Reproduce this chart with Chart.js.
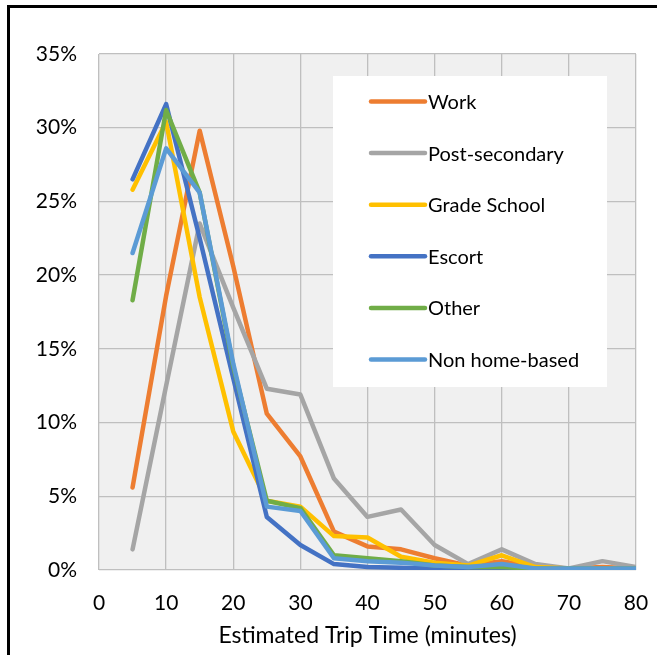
<!DOCTYPE html>
<html>
<head>
<meta charset="utf-8">
<script src="https://cdn.jsdelivr.net/npm/chart.js@4"></script>
<style>
  html, body { margin: 0; padding: 0; background: #ffffff; overflow: hidden; }
  #wrap { position: absolute; left: 0; top: 0; width: 657px; height: 655px; }
  #frame { position: absolute; left: 7px; top: 5px; width: 700px; height: 700px;
           border: 3px solid #000; pointer-events: none; }
</style>
</head>
<body>
<div id="wrap"><canvas id="c" width="657" height="655"></canvas></div>
<div id="frame"></div>
<script>
// ---- data ----
const minutes = [5, 10, 15, 20, 25, 30, 35, 40, 45, 50, 55, 60, 65, 70, 75, 80];
const seriesNames = ["Work", "Post-secondary", "Grade School", "Escort", "Other", "Non home-based"];
const work          = [5.6, 18.6, 29.8, 20.6, 10.6, 7.7, 2.6, 1.6, 1.4, 0.8, 0.3, 0.6, 0.2, 0.1, 0.2, 0.1];
const postSecondary = [1.4, 12.5, 23.5, 17.8, 12.3, 11.9, 6.2, 3.6, 4.1, 1.7, 0.4, 1.4, 0.4, 0.1, 0.6, 0.2];
const gradeSchool   = [25.8, 30.4, 18.5, 9.4, 4.7, 4.3, 2.3, 2.2, 0.9, 0.5, 0.3, 1.0, 0.2, 0.1, 0.1, 0.1];
const escort        = [26.5, 31.6, 22.5, 13.0, 3.6, 1.7, 0.4, 0.2, 0.15, 0.1, 0.05, 0.1, 0.05, 0.0, 0.0, 0.0];
const other         = [18.3, 31.2, 25.6, 13.8, 4.7, 4.2, 1.0, 0.8, 0.6, 0.3, 0.2, 0.2, 0.1, 0.1, 0.1, 0.1];
const nonHomeBased  = [21.5, 28.6, 25.6, 14.0, 4.3, 4.0, 0.8, 0.6, 0.5, 0.3, 0.2, 0.4, 0.1, 0.1, 0.1, 0.1];
const xTicks = [0, 10, 20, 30, 40, 50, 60, 70, 80];
const yTicks = [0, 5, 10, 15, 20, 25, 30, 35];
const colors = ["#ED7D31", "#A5A5A5", "#FFC000", "#4472C4", "#70AD47", "#5B9BD5"];
const xTitle = "Estimated Trip Time (minutes)";

const seriesValues = [work, postSecondary, gradeSchool, escort, other, nonHomeBased];
const FONT = "Lato, 'Open Sans', sans-serif";

const datasets = seriesNames.map((name, i) => ({
  label: name,
  data: minutes.map((m, k) => ({ x: m, y: seriesValues[i][k] })),
  borderColor: colors[i],
  backgroundColor: colors[i],
  borderWidth: 4.5,
  borderCapStyle: 'round',
  borderJoinStyle: 'round',
  pointRadius: 0,
  tension: 0,
  fill: false,
  order: seriesNames.length - i
}));

const plotBg = {
  id: 'plotBg',
  beforeDraw(chart) {
    const { ctx, chartArea: a } = chart;
    ctx.save();
    ctx.fillStyle = '#F0F0F0';
    ctx.fillRect(a.left, a.top, a.right - a.left, a.bottom - a.top);
    ctx.restore();
  }
};

const boxLegend = {
  id: 'boxLegend',
  afterDatasetsDraw(chart) {
    const { ctx, chartArea: a } = chart;
    const bx = a.left + 234, by = a.top + 22, bw = 274, bh = 311;
    ctx.save();
    ctx.fillStyle = '#FFFFFF';
    ctx.fillRect(bx, by, bw, bh);
    ctx.font = "20px " + FONT;
    ctx.textBaseline = 'middle';
    ctx.textAlign = 'left';
    chart.data.datasets.forEach((ds, i) => {
      const cy = by + 25.5 + i * 51.6;
      ctx.strokeStyle = ds.borderColor;
      ctx.lineWidth = 4.5;
      ctx.lineCap = 'round';
      ctx.beginPath();
      ctx.moveTo(bx + 38, cy);
      ctx.lineTo(bx + 92, cy);
      ctx.stroke();
      ctx.fillStyle = '#000000';
      ctx.fillText(ds.label, bx + 95, cy + 1);
    });
    ctx.restore();
  }
};

new Chart(document.getElementById('c'), {
  type: 'line',
  data: { datasets },
  plugins: [plotBg, boxLegend],
  options: {
    responsive: false,
    animation: false,
    events: [],
    layout: { padding: { top: 54, right: 21, left: 0, bottom: 0 } },
    plugins: { legend: { display: false }, tooltip: { enabled: false } },
    scales: {
      x: {
        type: 'linear',
        min: 0, max: 80,
        afterFit(s) { s.height = 85; },
        afterBuildTicks(s) { s.ticks = xTicks.map(v => ({ value: v })); },
        ticks: { color: '#000', font: { family: FONT, size: 21 }, padding: 0, maxRotation: 0 },
        grid: { color: '#BFBFBF', lineWidth: 1.3, drawTicks: true, tickLength: 21,
                tickColor: 'rgba(0,0,0,0)' },
        border: { display: false },
        title: { display: true, text: xTitle, color: '#000',
                 font: { family: FONT, size: 23 }, padding: { top: 4, bottom: 6 } }
      },
      y: {
        min: 0, max: 35,
        afterFit(s) { s.width = 99; },
        afterBuildTicks(s) { s.ticks = yTicks.map(v => ({ value: v })); },
        ticks: { color: '#000', font: { family: FONT, size: 21 }, padding: 22,
                 callback: v => v + '%' },
        grid: { color: '#BFBFBF', lineWidth: 1.3, drawTicks: false },
        border: { display: false }
      }
    }
  }
});
</script>
</body>
</html>
